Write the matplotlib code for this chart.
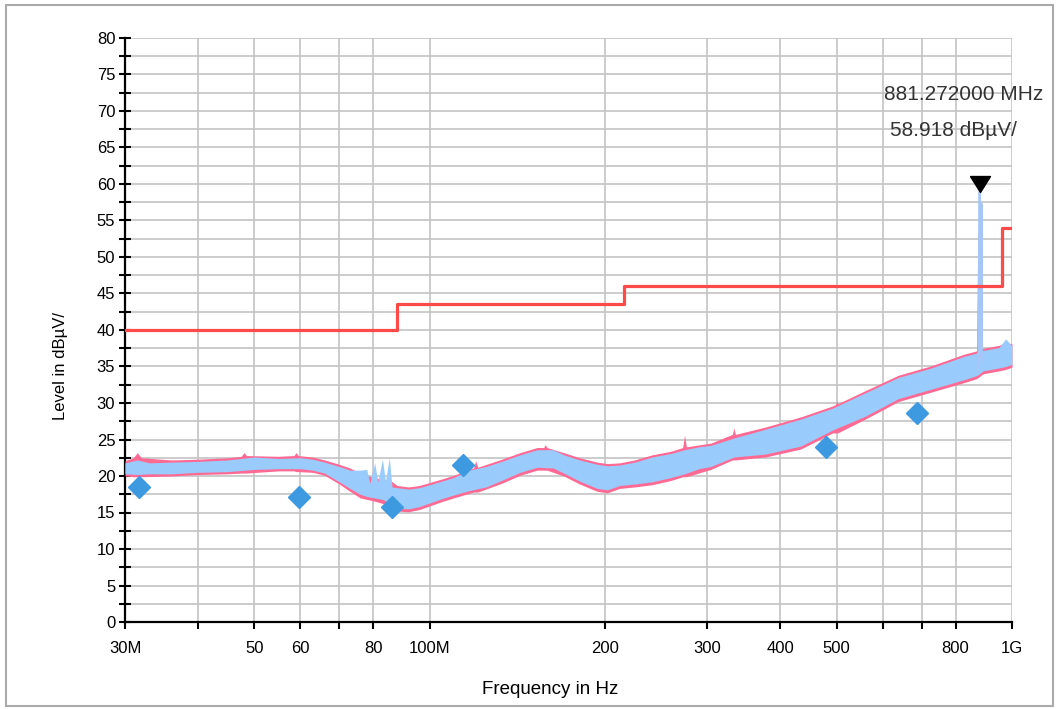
import matplotlib
matplotlib.use("Agg")
import matplotlib.pyplot as plt
from matplotlib.patches import Rectangle

plt.rcParams['font.family'] = ['Liberation Sans', 'DejaVu Sans']

# limit line (MHz, dBuV)
limite_f = [30, 88, 88, 216, 216, 960, 960, 1000]
limite_lv = [40, 40, 43.5, 43.5, 46, 46, 54, 54]

# blue trace envelope (MHz)
bleu_f = [30, 31.5, 33, 36, 40, 45, 50, 55, 60, 63, 66, 70, 73, 76, 78, 79, 80.5,
          81.5, 83, 84, 85.3, 86.2, 88, 92, 96, 100, 105, 110, 117, 125, 133, 143,
          153, 163, 170, 181, 194, 202, 212, 225, 241, 260, 274, 290, 304, 333, 377,
          434, 492, 560, 638, 727, 828, 866, 872, 892, 950, 975, 1000]
bleu_haut = [21.8, 22.2, 21.8, 21.9, 22.0, 22.2, 22.6, 22.4, 22.5, 22.3, 21.9, 21.3,
             20.8, 20.8, 20.9, 19.0, 21.8, 19.2, 22.3, 19.3, 22.5, 18.5, 18.4, 18.2,
             18.4, 18.8, 19.3, 19.8, 20.8, 21.3, 22.0, 22.9, 23.6, 23.6, 22.9, 22.2,
             21.6, 21.4, 21.5, 21.9, 22.6, 23.1, 23.6, 24.0, 24.2, 25.2, 26.4, 27.8,
             29.3, 31.4, 33.5, 34.8, 36.4, 36.8, 36.9, 37.2, 37.6, 38.8, 37.8]
bleu_bas = [20.3, 20.2, 20.3, 20.3, 20.5, 20.6, 20.9, 21.0, 21.0, 20.8, 20.4, 19.2,
            18.3, 17.5, 17.2, 17.1, 17.0, 16.9, 16.8, 16.6, 16.4, 16.2, 15.6, 15.5,
            15.8, 16.3, 16.9, 17.4, 18.0, 18.5, 19.4, 20.5, 21.2, 21.1, 20.4, 19.3,
            18.3, 18.1, 18.7, 18.9, 19.2, 19.8, 20.3, 21.0, 21.3, 22.6, 23.0, 24.1,
            26.3, 28.2, 30.6, 31.9, 33.2, 33.7, 33.8, 34.4, 34.8, 35.0, 35.3]

# pink trace envelope, mostly hidden under the blue one, with its peaks
rose_f = [30, 31, 31.5, 32, 36, 40, 45, 47.5, 48, 48.5, 55, 58.5, 59, 59.5, 63, 66,
          70, 73, 76, 80, 86, 88, 92, 96, 100, 105, 110, 119, 120, 121, 133, 143,
          153, 157, 158, 159, 170, 181, 194, 202, 212, 225, 241, 260, 272, 274, 276,
          304, 331, 333, 335, 377, 434, 492, 498, 500, 502, 560, 638, 727, 828, 866,
          872, 892, 950, 975, 1000]
rose_haut = [22.1, 22.5, 23.2, 22.5, 22.2, 22.3, 22.5, 22.7, 23.2, 22.8, 22.7, 22.8,
             23.2, 22.8, 22.6, 22.2, 21.6, 21.1, 20.4, 19.8, 19.3, 18.7, 18.5, 18.7,
             19.1, 19.6, 20.1, 21.1, 22.1, 21.2, 22.3, 23.2, 23.9, 23.9, 24.3, 23.9,
             23.2, 22.5, 21.9, 21.7, 21.8, 22.2, 22.9, 23.4, 23.9, 25.6, 24.0, 24.5,
             25.7, 26.6, 25.7, 26.7, 28.1, 29.6, 29.8, 30.3, 29.9, 31.7, 33.8, 35.1,
             36.7, 37.1, 37.2, 37.5, 37.9, 38.3, 38.1]
rose_bas = [20.0, 19.9, 19.9, 19.9, 20.0, 20.2, 20.3, 20.4, 20.4, 20.4, 20.7, 20.7,
            20.6, 20.6, 20.5, 20.1, 18.9, 17.9, 17.0, 16.6, 15.9, 15.2, 15.1, 15.4,
            15.9, 16.5, 17.0, 17.8, 17.8, 17.8, 19.0, 20.1, 20.8, 20.8, 20.8, 20.8,
            20.0, 18.9, 17.9, 17.7, 18.3, 18.5, 18.8, 19.4, 19.9, 19.9, 19.9, 20.9,
            22.2, 22.2, 22.2, 22.6, 23.7, 25.9, 25.9, 25.9, 25.9, 27.8, 30.2, 31.5,
            32.8, 33.3, 33.4, 34.0, 34.4, 34.6, 34.9]

# spike near 881 MHz
pic_bleu_f = [872, 876, 878.5, 881.272, 882.5, 885, 886.5, 888]
pic_bleu_lv = [34.5, 36.5, 58.9, 58.918, 36.0, 36.0, 57.3, 35.5]
pic_rose_f = [874, 879, 881, 883]
pic_rose_lv = [34.5, 53.0, 52.5, 34.5]

# quasi-peak points
qp_f = [31.7, 59.6, 86.3, 114.3, 479.5, 686.9]
qp_lv = [18.5, 17.1, 15.75, 21.5, 24.0, 28.6]

marqueur_f = 881.272
marqueur_lv = 58.918

xticks = [30, 40, 50, 60, 70, 80, 100, 200, 300, 400, 500, 600, 700, 800, 1000]
xlabels = ["30M", "", "50", "60", "", "80", "100M", "200", "300", "400", "500",
           "", "", "800", "1G"]

fig = plt.figure(figsize=(10.6, 7.09), dpi=100)
ax = fig.add_axes([125/1060, 87/709, 887/1060, 584/709])

ax.fill_between(rose_f, rose_bas, rose_haut, color="#ff6a94", lw=0, zorder=3)
ax.plot(pic_rose_f, pic_rose_lv, color="#ff6a94", lw=1.5, zorder=3)
ax.fill_between(bleu_f, bleu_bas, bleu_haut, color="#99cbfc", lw=0, zorder=4)
ax.plot(pic_bleu_f, pic_bleu_lv, color="#a6c6f8", lw=1.4, zorder=4)

ax.plot(limite_f, limite_lv, color="#ff4a4a", lw=2.3, zorder=5)
ax.plot(qp_f, qp_lv, ls="none", marker="D", ms=11, color="#3d9ae0", zorder=6)

tri = [(-1, 1.6), (1, 1.6), (0, 0), (-1, 1.6)]
ax.plot([marqueur_f], [marqueur_lv], ls="none", marker=tri, ms=23, color="black",
        zorder=7, clip_on=False)
ax.text(884/1060, 1 - 95/709, "881.272000 MHz", transform=fig.transFigure,
        fontsize=15, color="#333333", va="center", ha="left")
ax.text(890/1060, 1 - 130/709, "58.918 dBµV/", transform=fig.transFigure,
        fontsize=15, color="#333333", va="center", ha="left")

ax.set_xscale("log")
ax.set_xlim(30, 1000)
ax.set_ylim(0, 80)
ax.set_xticks(xticks)
ax.set_xticklabels(xlabels)
ax.minorticks_off()
ax.set_yticks(range(0, 81, 5))
ax.set_yticks([y + 2.5 for y in range(0, 80, 5)], minor=True)
ax.grid(True, which="both", color="#c4c4c4", lw=1.2, zorder=0)
ax.set_axisbelow(True)

for s in ["top", "right"]:
    ax.spines[s].set_visible(False)
for s in ["left", "bottom"]:
    ax.spines[s].set_linewidth(1.6)
ax.tick_params(axis="y", which="both", direction="inout", length=8, width=1.5,
               labelsize=12, pad=3)
ax.tick_params(axis="x", direction="out", length=5, width=1.5, labelsize=12, pad=9)

fig.text(60/1060, 1 - 366/709, "Level in dBµV/", rotation=90, fontsize=12,
         ha="center", va="center")
fig.text(550/1060, 1 - 689/709, "Frequency in Hz", fontsize=13.5,
         ha="center", va="center")

fig.patches.append(Rectangle((6/1060, 3/709), 1047/1060, 701/709,
                             transform=fig.transFigure, fill=False,
                             edgecolor="#aaaaaa", lw=1.5))

fig.savefig("out.png", dpi=100)
